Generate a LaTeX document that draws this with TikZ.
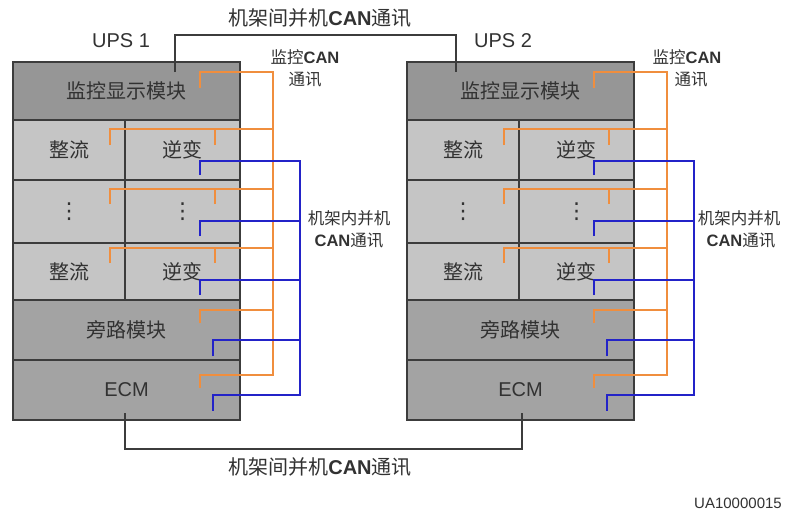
\documentclass[tikz,border=0pt]{standalone}
\usepackage{fontspec}
\setmainfont{Liberation Sans}
\newfontfamily\cjk{Noto Sans CJK SC}
\newfontfamily\djv{DejaVu Sans}
\definecolor{topgray}{RGB}{150,150,150}
\definecolor{cellgray}{RGB}{197,197,197}
\definecolor{midgray}{RGB}{163,163,163}
\definecolor{orng}{RGB}{240,142,62}
\definecolor{blu}{RGB}{35,35,200}
\definecolor{txt}{RGB}{50,50,50}
\definecolor{edge}{RGB}{60,60,60}
\begin{document}
\begin{tikzpicture}[x=1pt,y=-1pt,
  mod/.style={draw=edge, line width=1.1pt, inner sep=0pt, text=txt,
    font=\fontsize{20}{24}\selectfont},
  dotcell/.style={mod, font=\djv\fontsize{22}{24}\selectfont},
  big/.style={text=txt, inner sep=0pt, font=\fontsize{20}{24}\selectfont},
  small/.style={text=txt, inner sep=0pt, font=\fontsize{16.5}{20}\selectfont},
  orngline/.style={draw=orng, line width=1.7pt},
  bluline/.style={draw=blu, line width=1.7pt},
  linkline/.style={draw=edge, line width=1.3pt}]
\useasboundingbox (0,0) rectangle (785,515);
\fill[white] (0,0) rectangle (785,515);

\foreach \u/\dx in {1/0,2/394}{
\begin{scope}[xshift=\dx]
  \node[mod, fill=topgray, minimum width=227pt, minimum height=58pt] (top\u) at (126.5,91) {\cjk 监控显示模块};
  \node[mod, fill=cellgray, minimum width=112pt, minimum height=60pt] (raL\u) at (69,150) {\cjk 整流};
  \node[mod, fill=cellgray, minimum width=115pt, minimum height=60pt] (raR\u) at (182.5,150) {\cjk 逆变};
  \node[dotcell, fill=cellgray, minimum width=112pt, minimum height=63pt] (rbL\u) at (69,211.5) {⋮};
  \node[dotcell, fill=cellgray, minimum width=115pt, minimum height=63pt] (rbR\u) at (182.5,211.5) {⋮};
  \node[mod, fill=cellgray, minimum width=112pt, minimum height=57pt] (rcL\u) at (69,271.5) {\cjk 整流};
  \node[mod, fill=cellgray, minimum width=115pt, minimum height=57pt] (rcR\u) at (182.5,271.5) {\cjk 逆变};
  \node[mod, fill=midgray, minimum width=227pt, minimum height=60pt] (byp\u) at (126.5,330) {\cjk 旁路模块};
  \node[mod, fill=midgray, minimum width=227pt, minimum height=60pt] (ecm\u) at (126.5,390) {ECM};
  \draw[draw=edge, line width=1.4pt] (top\u.north west) rectangle (ecm\u.south east);
  % monitoring CAN (orange)
  \coordinate (obt\u) at (273,72);
  \coordinate (obb\u) at (273,375);
  \draw[orngline] (200,88) -- (200,72) -- (obt\u) -- (obb\u) -- (200,375) -- (200,388);
  \draw[orngline] (110,145) -- (110,129) -- (273,129);
  \draw[orngline] (215,145) -- (215,129);
  \draw[orngline] (110,204) -- (110,189) -- (273,189);
  \draw[orngline] (215,204) -- (215,189);
  \draw[orngline] (110,263) -- (110,248) -- (273,248);
  \draw[orngline] (215,263) -- (215,248);
  \draw[orngline] (200,323) -- (200,310) -- (273,310);
  % parallel CAN (blue)
  \coordinate (bbt\u) at (300,161);
  \coordinate (bbb\u) at (300,395);
  \draw[bluline] (200,175) -- (200,161) -- (bbt\u) -- (bbb\u) -- (213,395) -- (213,411);
  \draw[bluline] (200,236) -- (200,221) -- (300,221);
  \draw[bluline] (200,295) -- (200,280) -- (300,280);
  \draw[bluline] (213,356) -- (213,340) -- (300,340);
\end{scope}
}

% inter-rack links
\coordinate (ta) at (175,72);
\coordinate (tb) at (456,72);
\coordinate (ba) at (125,413);
\coordinate (bb) at (522,413);
\draw[linkline] (ta) -- (175,35) -- (456,35) -- (tb);
\draw[linkline] (ba) -- (125,449) -- (522,449) -- (bb);

% labels
\node[big] (lt) at (320,18) {{\cjk 机架间并机}\textbf{CAN}{\cjk 通讯}};
\node[big] (lb) at (320,467) {{\cjk 机架间并机}\textbf{CAN}{\cjk 通讯}};
\node[big] (ups1) at (121,41) {UPS 1};
\node[big] (ups2) at (503,41) {UPS 2};
\node[small] (mca1) at (305,57) {{\cjk 监控}\textbf{CAN}};
\node[small] (mcb1) at (305,80) {\cjk 通讯};
\node[small] (mca2) at (687,57) {{\cjk 监控}\textbf{CAN}};
\node[small] (mcb2) at (691,80) {\cjk 通讯};
\node[small] (pca1) at (349,218) {\cjk 机架内并机};
\node[small] (pcb1) at (349,241) {\textbf{CAN}{\cjk 通讯}};
\node[small] (pca2) at (739,218) {\cjk 机架内并机};
\node[small] (pcb2) at (741,241) {\textbf{CAN}{\cjk 通讯}};
\node[text=txt, inner sep=0pt, font=\fontsize{15}{18}\selectfont] (ua) at (738,503) {UA10000015};
\end{tikzpicture}
\end{document}
